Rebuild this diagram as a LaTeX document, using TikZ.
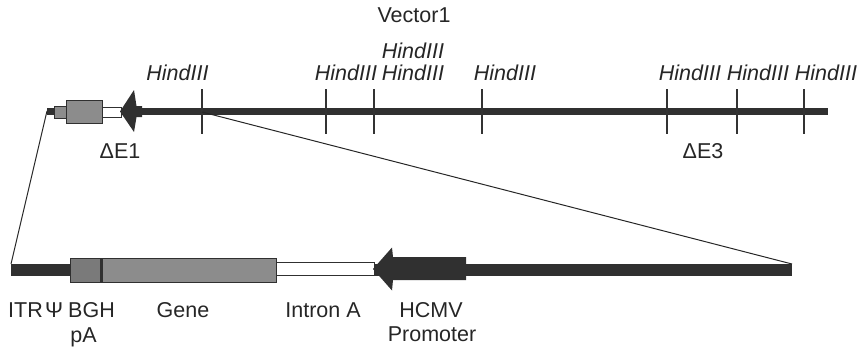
\documentclass[tikz,border=0pt]{standalone}
\usepackage{fontspec}
\setmainfont{Liberation Sans}
\definecolor{dna}{HTML}{303030}
\definecolor{geneg}{HTML}{8C8C8C}
\definecolor{bghg}{HTML}{7A7A7A}
\begin{document}
\begin{tikzpicture}[x=1pt,y=-1pt,
  lbl/.style={inner sep=0pt, anchor=base, font=\fontsize{21.5}{24}\selectfont, text=black!85},
  hind/.style={inner sep=0pt, anchor=base, font=\fontsize{21.5}{24}\selectfont\itshape, text=black!85},
  cut/.style={draw=black!80, line width=1.2pt},
  boxg/.style={fill=geneg, draw=dna, line width=0.8pt},
  boxw/.style={fill=white, draw=dna, line width=0.8pt},
  conn/.style={draw=black!85, line width=1pt}]
\useasboundingbox (0,0) rectangle (865,348);

% ---------- top vector ----------
\fill[dna] (47,108) rectangle (828,115);
\coordinate (topL) at (47,111);
\draw[boxg] (54,106) rectangle (66,118);
\draw[boxg] (66,100) rectangle (102,123);
\draw[boxw] (102,107) rectangle (121,117);
\fill[dna] (120,111.5) -- (134,90) -- (136.5,106) -- (142,106) -- (142,117) -- (136.5,117) -- (134,132) -- cycle;

% cut sites
\draw[cut] (202,89) -- (202,134);
\coordinate (cut1) at (202,112);
\draw[cut] (326,89) -- (326,134);
\draw[draw=black!80, line width=2.6pt] (374,89) -- (374,134);
\draw[cut] (482,89) -- (482,134);
\draw[cut] (667,89) -- (667,134);
\draw[cut] (737,89) -- (737,134);
\draw[cut] (804,89) -- (804,134);

\node[lbl] (v1) at (414,23) {Vector1};
\node[hind] (h1) at (177.5,80) {HindIII};
\node[hind] (h2) at (346,80) {HindIII};
\node[hind] (h3a) at (413,58) {HindIII};
\node[hind] (h3b) at (413,80) {HindIII};
\node[hind] (h4) at (505,80) {HindIII};
\node[hind] (h5) at (690,80) {HindIII};
\node[hind] (h6) at (758,80) {HindIII};
\node[hind] (h7) at (826,80) {HindIII};
\node[lbl] (de1) at (120,158) {ΔE1};
\node[lbl] (de3) at (703,158) {ΔE3};

% ---------- lower expanded region ----------
\fill[dna] (11,264) rectangle (792,276);
\coordinate (lowL) at (11,264);
\coordinate (lowR) at (792,264);
\draw[fill=bghg, draw=dna, line width=0.8pt] (70,258) rectangle (102,282);
\fill[dna] (99.5,258) rectangle (102,282);
\draw[boxg] (102,258) rectangle (276,282);
\draw[boxw] (276,262) rectangle (374,275);
\fill[dna] (373,269) -- (392,247.5) -- (393,257) -- (466,257) -- (466,280) -- (393,280) -- (392,290.5) -- cycle;

% connectors
\draw[conn] (topL) -- (lowL);
\draw[conn] (cut1) -- (lowR);

\node[lbl, anchor=base west] (itr) at (8,317) {ITR};
\node[lbl, anchor=base west] (psi) at (45,317) {Ψ};
\node[lbl, anchor=base west] (bgh) at (68,317) {BGH};
\node[lbl] (pa) at (83.5,342) {pA};
\node[lbl] (gene) at (183,317) {Gene};
\node[lbl] (intron) at (323,317) {Intron A};
\node[lbl] (hcmv) at (431,317) {HCMV};
\node[lbl] (prom) at (432,341) {Promoter};
\end{tikzpicture}
\end{document}
